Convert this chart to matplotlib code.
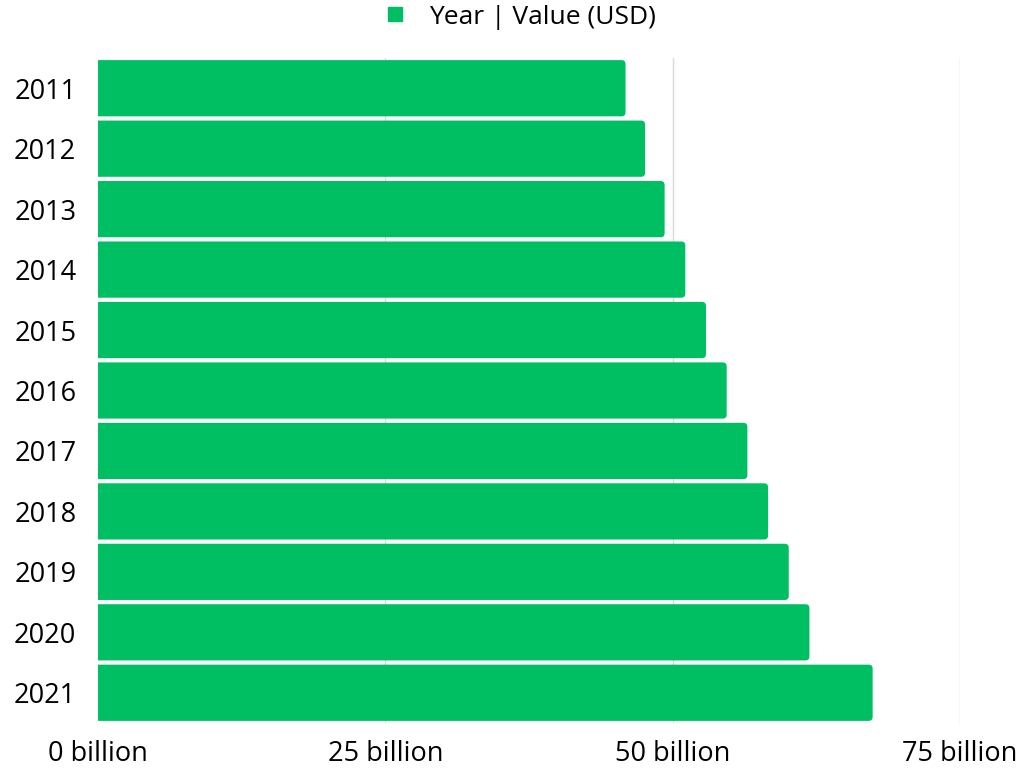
import matplotlib.pyplot as plt
from matplotlib.patches import PathPatch
from matplotlib.path import Path
from matplotlib.lines import Line2D

years = ["2011", "2012", "2013", "2014", "2015", "2016",
         "2017", "2018", "2019", "2020", "2021"]
values = [45.9, 47.6, 49.3, 51.1, 52.9, 54.7, 56.5, 58.3, 60.1, 61.9, 67.4]
xticks = [0, 25, 50, 75]
xtick_labels = ["0 billion", "25 billion", "50 billion", "75 billion"]
series_name = "Year | Value (USD)"

green = "#00bf63"
plt.rcParams["font.family"] = ["Open Sans", "DejaVu Sans"]

fig = plt.figure(figsize=(10.24, 7.68), dpi=100)
ax = fig.add_axes([98 / 1024, 45 / 768, 862 / 1024, 665 / 768])

pos = list(range(len(years)))
bars = ax.barh(pos, values, height=0.93, color=green, zorder=2)

ax.set_xlim(0, 75)
ax.set_ylim(len(years) - 0.5, -0.5)

# swap each bar for one with rounded right-hand corners
rx = 4 * 75 / 862
ry = 4 * len(years) / 665
for rect in bars:
    x, y = rect.get_x(), rect.get_y()
    w, h = rect.get_width(), rect.get_height()
    rect.remove()
    verts = [(x, y), (x + w - rx, y), (x + w, y), (x + w, y + ry),
             (x + w, y + h - ry), (x + w, y + h), (x + w - rx, y + h),
             (x, y + h), (x, y)]
    codes = [Path.MOVETO, Path.LINETO, Path.CURVE3, Path.CURVE3,
             Path.LINETO, Path.CURVE3, Path.CURVE3,
             Path.LINETO, Path.CLOSEPOLY]
    ax.add_patch(PathPatch(Path(verts, codes), facecolor=green,
                           edgecolor="none", zorder=2))

for t in xticks[1:]:
    ax.axvline(t, color="#d9d9d9", linewidth=1, zorder=1)

ax.set_xticks(xticks)
ax.set_xticklabels(xtick_labels, fontsize=19.5)
ax.set_yticks(pos)
ax.set_yticklabels(years, fontsize=19.5, ha="center")
ax.tick_params(axis="y", length=0, pad=38)
ax.tick_params(axis="x", length=0, pad=12)
for s in ax.spines.values():
    s.set_visible(False)

handle = Line2D([], [], marker="s", linestyle="none", color=green, markersize=10)
fig.legend([handle], [series_name], loc="upper center", bbox_to_anchor=(0.5, 1.025),
           frameon=False, fontsize=19, handletextpad=0.3)

fig.savefig("out.png", dpi=100)
